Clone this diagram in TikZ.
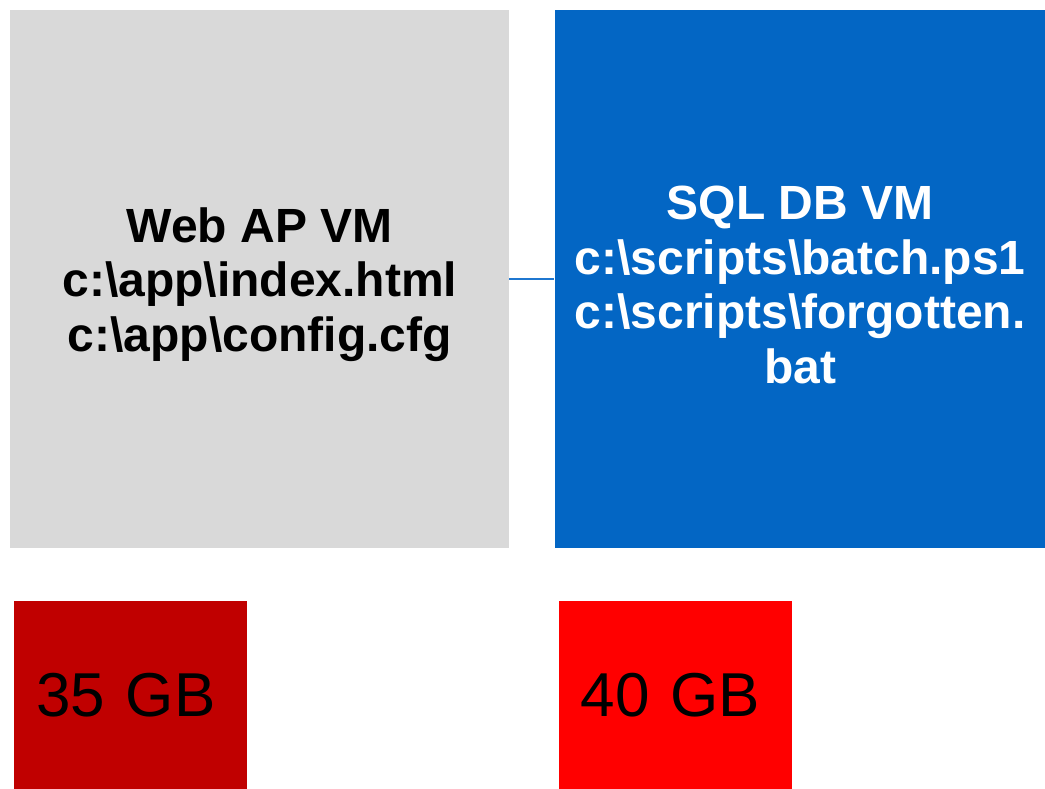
\documentclass[tikz,border=0pt]{standalone}
\usepackage{fontspec}
\setmainfont{Liberation Sans}
\usetikzlibrary{positioning}

\definecolor{vmgray}{HTML}{D9D9D9}
\definecolor{vmblue}{HTML}{0366C4}
\definecolor{linkblue}{HTML}{1F77D0}
\definecolor{diskdark}{HTML}{C00000}
\definecolor{diskred}{HTML}{FF0000}

% taller first line, pushes the VM text down a little
\newcommand{\vmstrut}{\rule{0pt}{45pt}}

\begin{document}
\begin{tikzpicture}
%VM and disk layout
	[
	 x=1pt, y=-1pt,
	 %Styles
	 vm_node/.style={rectangle,inner sep=0pt,minimum height=538pt,align=center,
	   font=\fontsize{48}{54.5}\selectfont\bfseries},
	 disk_node/.style={rectangle,inner xsep=22pt,inner ysep=0pt,minimum height=189pt,
	   text width=189pt,align=left,font=\fontsize{62}{70}\selectfont},
	 link_line/.style={draw=linkblue,line width=2pt}
	]
	\useasboundingbox (0,0) rectangle (1045,789);

	%Node placement
	\node (webvm) [vm_node,fill=vmgray,minimum width=499pt,anchor=north west] at (10,10)
	  {\vmstrut Web AP VM\\c:\textbackslash app\textbackslash index.html\\c:\textbackslash app\textbackslash config.cfg};
	\node (sqlvm) [vm_node,fill=vmblue,text=white,minimum width=491pt,right=45pt of webvm]
	  {\vmstrut SQL DB VM\\c:\textbackslash scripts\textbackslash batch.ps1\\c:\textbackslash scripts\textbackslash forgotten.\\bat};
	\node (disk35) [disk_node,fill=diskdark,below right=52pt and 4pt of webvm.south west] {35 GB};
	\node (disk40) [disk_node,fill=diskred,right=311pt of disk35] {40 GB};

	%Edges
	\path (webvm) edge [link_line] (sqlvm);
\end{tikzpicture}
\end{document}
